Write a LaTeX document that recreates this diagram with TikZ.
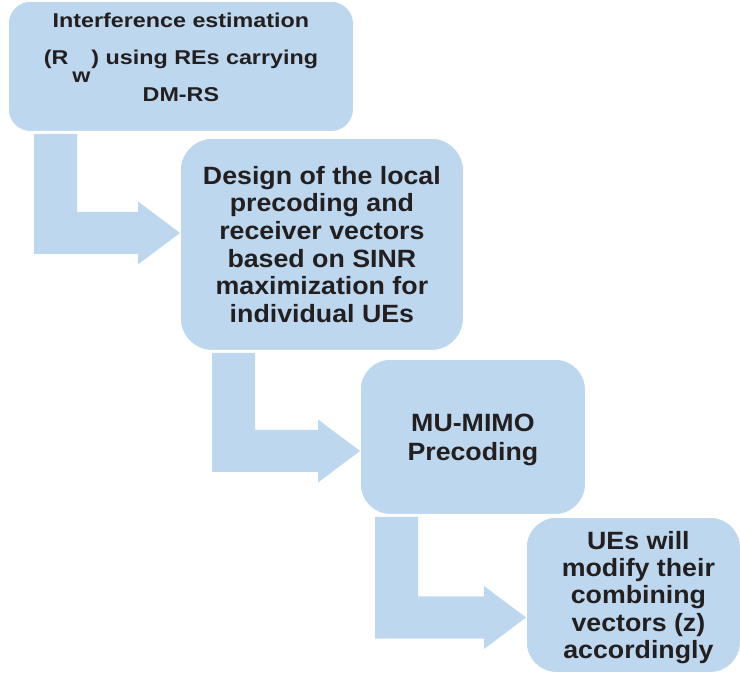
\documentclass[tikz,border=0pt]{standalone}
\usepackage{fontspec}
\setmainfont{Liberation Sans}
\newfontfamily\bigfam[FakeStretch=1.07]{Liberation Sans}
\newfontfamily\smallfam[FakeStretch=1.165]{Liberation Sans}
\usetikzlibrary{calc,backgrounds}
\definecolor{boxblue}{RGB}{189,215,238}
\definecolor{ink}{RGB}{35,31,32}
% #1 from node, #2 to node, #3 stem left x (pt), #4 tip y (pt, downward)
\newcommand{\bentarrow}[4]{%
  \fill[flow] let \p1=(#1.south), \p2=(#2.west) in
    (#3pt,{\y1-2pt}) -- ({#3pt+43pt},{\y1-2pt}) -- ({#3pt+43pt},{-#4pt+21pt})
    -- ({\x2-42pt},{-#4pt+21pt}) -- ({\x2-42pt},{-#4pt+31.5pt}) -- (\x2,{-#4pt})
    -- ({\x2-42pt},{-#4pt-31.5pt}) -- ({\x2-42pt},{-#4pt-21pt}) -- (#3pt,{-#4pt-21pt}) -- cycle;}
\begin{document}
\begin{tikzpicture}[
  box/.style={fill=boxblue, draw=white, line width=0.8pt, inner sep=0pt, anchor=north west},
  flow/.style={fill=boxblue},
  bigtxt/.style={text=ink, align=center, inner sep=0pt, font=\bigfam\bfseries\fontsize{25}{27.7}\selectfont},
  smalltxt/.style={text=ink, align=center, inner sep=0pt, font=\smallfam\bfseries\fontsize{20}{36.6}\selectfont}]
\useasboundingbox (0,0) rectangle (740pt,-676pt);
\node[box, rounded corners=22pt, minimum width=345pt, minimum height=130pt] (b1) at (8pt,-1pt) {};
\node[box, rounded corners=32pt, minimum width=283pt, minimum height=212pt] (b2) at (180pt,-138pt) {};
\node[box, rounded corners=30pt, minimum width=225pt, minimum height=155pt] (b3) at (360pt,-359pt) {};
\node[box, rounded corners=30pt, minimum width=214pt, minimum height=155pt] (b4) at (526pt,-517pt) {};
\begin{scope}[on background layer]
  \bentarrow{b1}{b2}{34}{233}
  \bentarrow{b2}{b3}{212}{451}
  \bentarrow{b3}{b4}{375}{617.5}
\end{scope}
\node[smalltxt] (t1) at ($(b1.center)+(0,9pt)$)
  {Interference estimation\\(R\hspace{4pt}\raisebox{-18pt}[0pt][0pt]{w}\hspace{1pt}) using REs carrying\\DM-RS};
\node[bigtxt] (t2) at (b2.center)
  {Design of the local\\precoding and\\receiver vectors\\based on SINR\\maximization for\\individual UEs};
\node[bigtxt, font=\bigfam\bfseries\fontsize{25}{29}\selectfont] (t3) at ($(b3.center)+(0,-3.5pt)$)
  {MU-MIMO\\Precoding};
\node[bigtxt, font=\bigfam\bfseries\fontsize{25}{27.3}\selectfont] (t4) at ($(b4.center)+(5pt,-2.5pt)$)
  {UEs will\\modify their\\combining\\vectors (z)\\accordingly};
\end{tikzpicture}
\end{document}
